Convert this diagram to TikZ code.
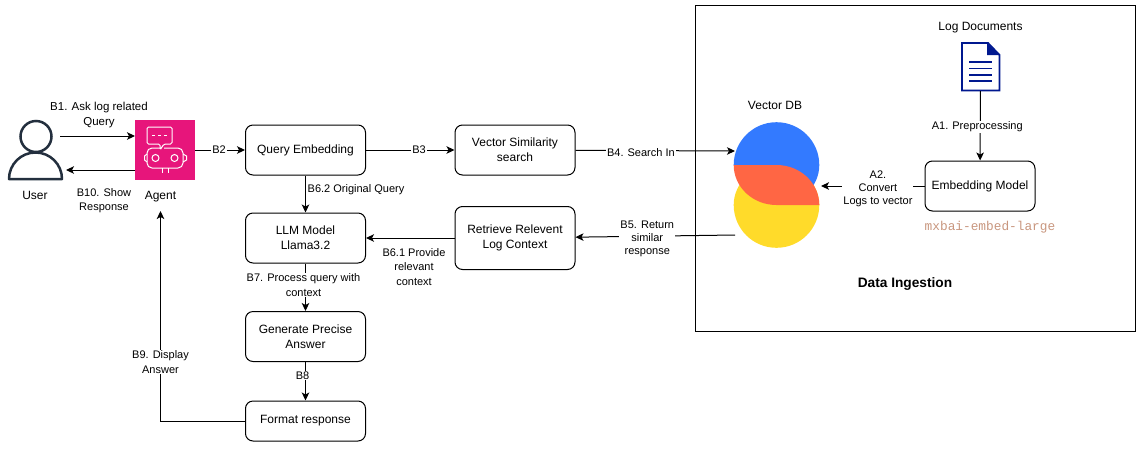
\documentclass[tikz,border=0pt]{standalone}
\usepackage{fontspec}
\setmainfont{Liberation Sans}
\setmonofont{Liberation Mono}
\usepackage{xcolor}
\usetikzlibrary{positioning,arrows.meta}
\definecolor{agentpink}{RGB}{231,21,123}
\definecolor{usergrey}{RGB}{35,47,62}
\definecolor{docnavy}{RGB}{0,24,143}
\definecolor{dbblue}{RGB}{51,122,255}
\definecolor{dbred}{RGB}{255,102,68}
\definecolor{dbyellow}{RGB}{255,219,42}
\definecolor{modelname}{RGB}{200,150,126}
\tikzset{
  proc/.style={draw=black,fill=white,rounded corners=7.5pt,line width=1pt,
    font=\fontsize{12}{15}\selectfont,align=center,inner sep=0pt,
    minimum width=120pt,minimum height=50pt},
  icon/.style={inner sep=0pt,outer sep=0pt},
  title/.style={inner sep=0pt,font=\fontsize{12}{15}\selectfont,align=center},
  lbl/.style={inner sep=1pt,fill=white,font=\fontsize{11}{13}\selectfont,align=center},
  lblwide/.style={lbl,font=\fontsize{11}{14.5}\selectfont},
  flow/.style={-{Stealth[length=8pt,width=7.5pt,inset=2pt]},draw=black,line width=1pt},
  botline/.style={draw=white,line width=1pt},
}
\begin{document}
\begin{tikzpicture}[x=1pt,y=-1pt,node distance=37pt and 88.5pt]
  \useasboundingbox (0,0) rectangle (1141,448);
  \node[draw=black,line width=1pt,icon,minimum width=440pt,minimum height=326pt] (ingest) at (915,168) {};
  \node[font=\fontsize{13.7}{15}\selectfont\bfseries,inner sep=0pt] (ingesttitle) at (905,284) {Data Ingestion};

  \node[proc] (qemb) at (305.5,150) {Query Embedding};
  \node[proc,right=of qemb] (vsim) {Vector Similarity\\search};
  \node[proc,below=of qemb] (llm) {LLM Model\\Llama3.2};
  \node[proc,minimum height=63pt,right=of llm] (retr) {Retrieve Relevent\\Log Context};
  \node[proc,below=47.5pt of llm] (gen) {Generate Precise\\Answer};
  \node[proc,minimum height=40pt,below=38.5pt of gen] (fmt) {Format response};
  \node[proc,minimum width=110pt] (emb) at (980,186) {Embedding Model};
  \node[below=9.5pt of emb,xshift=10pt,inner sep=0pt,text=modelname,font=\fontsize{12.8}{15}\ttfamily] (embname) {mxbai-embed-large};

  % user
  \node[icon,minimum width=54pt,minimum height=60pt] (user) at (35,150) {};
  \draw[line width=2.5pt,draw=usergrey] (36,136.5) circle[radius=15.5pt];
  \draw[line width=2.5pt,draw=usergrey,line join=round]
    (9,179) arc[start angle=180,end angle=0,radius=26.5pt] -- cycle;
  \node[title,below=11pt of user] (userlbl) {User};

  % agent
  \node[icon,fill=agentpink,minimum size=60pt] (agent) at (165,150) {};
  \node[title,below=11pt of agent,xshift=-4.5pt] (agentlbl) {Agent};
  \draw[botline,rounded corners=1.5pt] (147,127) -- (172,127) -- (172,144) -- (164,144) -- (160,150) -- (160,144) -- (147,144) -- cycle;
  \draw[botline] (152,135) -- (155,135) (158,135) -- (161,135) (164,135) -- (167,135);
  \draw[botline,rounded corners=5pt] (160,148) -- (147,148) -- (147,168) -- (183,168) -- (183,148) -- (164,148);
  \draw[botline] (147,154) -- (144.5,156) -- (144.5,160) -- (147,162);
  \draw[botline] (183,154) -- (186.5,156) -- (186.5,160) -- (183,162);
  \draw[botline] (155.5,158) circle[radius=3.5pt] (174.5,158) circle[radius=3.5pt];
  \draw[botline] (162,168) -- (162,173) (168,168) -- (168,173);

  % vector db
  \node[icon,minimum width=86pt,minimum height=124pt] (vdb) at (778,186) {};
  \fill[dbyellow] (733.7,205) arc[start angle=180,end angle=360,radius=42.8pt]
    arc[start angle=0,end angle=180,x radius=42.8pt,y radius=40pt] -- cycle;
  \fill[dbblue] (733.7,165) arc[start angle=180,end angle=0,radius=42.8pt]
    arc[start angle=0,end angle=-90,x radius=42.8pt,y radius=40pt] -- (776.5,165) -- cycle;
  \fill[dbred] (733.7,165) -- (776.5,165) arc[start angle=90,end angle=0,x radius=42.8pt,y radius=40pt]
    -- (776.5,205) arc[start angle=270,end angle=180,x radius=42.8pt,y radius=40pt] -- cycle;
  \node[title,above=14pt of vdb,xshift=-3pt] (vdblbl) {Vector DB};

  % log documents
  \node[icon,minimum width=39pt,minimum height=49pt] (doc) at (980.5,66.5) {};
  \draw[docnavy,line width=1.8pt,fill=white] (962,43) -- (988,43) -- (999.5,55) -- (999.5,90.5) -- (962,90.5) -- cycle;
  \fill[docnavy] (987,43) -- (999.5,55) -- (987,55) -- cycle;
  \foreach \ly in {62,68.5,75,81}
    \draw[docnavy,line width=1.8pt] (969,\ly) -- (992,\ly);
  \node[title,above=9pt of doc] (doclbl) {Log Documents};

  \draw[flow] ([yshift=14pt,xshift=-2pt]user.east) -- ([yshift=14pt]agent.west);
  \node[lblwide,fill=none,font=\fontsize{11.5}{15}\selectfont] (b1) at (99,115.5) {B1. Ask log related\\Query};
  \draw[flow] ([yshift=-20pt]agent.west) -- ([yshift=-20pt,xshift=4pt]user.east);
  \node[lblwide,fill=none] (b10) at (104,200.5) {B10. Show\\Response};

  \draw[flow] (agent) -- node[lbl,pos=0.48] {B2} (qemb);
  \draw[flow] (qemb) -- node[lbl,pos=0.6] {B3} (vsim);
  \draw[flow] (vsim) -- node[lbl,pos=0.41,yshift=-2pt] {B4. Search In} ([yshift=35pt]vdb.west);
  \draw[flow] ([yshift=-49pt]vdb.west) -- node[lbl,pos=0.55,yshift=-3pt] {B5. Return\\similar\\response} (retr);
  \draw[flow] (retr) -- (llm);
  \node[lblwide,fill=none] (b61) at (414,267) {B6.1 Provide\\relevant\\context};
  \draw[flow] (qemb) -- (llm);
  \node[lbl,fill=none,right=1pt of qemb.south,yshift=-14pt,anchor=west] (b62) {B6.2 Original Query};
  \draw[flow] (llm) -- node[lblwide,pos=0.45,xshift=-2pt] {B7. Process query with\\context} (gen);
  \draw[flow] (gen) -- node[lbl,pos=0.35,xshift=-3pt] {B8} (fmt);
  \coordinate (agentend) at (160.5,211);
  \draw[flow] (fmt) -| node[lblwide,pos=0.64] {B9. Display\\Answer} (agentend);
  \draw[flow] (doc) -- node[lbl,pos=0.52,xshift=-3pt] {A1. Preprocessing} (emb);
  \draw[flow] (emb) -- node[lbl,pos=0.45,yshift=-3pt] {A2.\\Convert\\Logs to vector} (vdb);
\end{tikzpicture}
\end{document}
